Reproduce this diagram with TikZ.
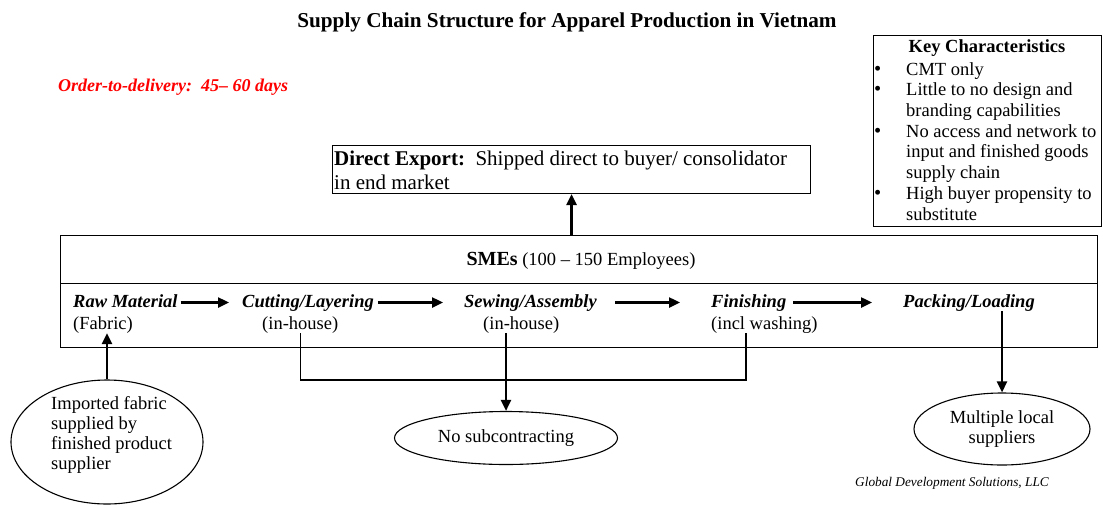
\documentclass[tikz,border=0pt]{standalone}
\usepackage{fontspec}
\setmainfont{Liberation Serif}
\usetikzlibrary{arrows.meta, shapes.geometric}

\begin{document}
\begin{tikzpicture}[x=1pt, y=-1pt, >={Triangle[length=11pt, width=10pt]},
  every node/.style={inner sep=0pt, font=\fontsize{18.5}{20.7}\selectfont},
  box/.style={draw, line width=1.1pt},
  flow/.style={->, line width=2.4pt},
  link/.style={line width=1.1pt},
  stage/.style={anchor=base west, font=\fontsize{18.5}{20.7}\selectfont\bfseries\itshape,
    text height=13pt, text depth=4pt},
  sub/.style={anchor=base west, text height=13pt, text depth=4pt},
  bubble/.style={box, ellipse, align=center}]
  \useasboundingbox (0,0) rectangle (1103,504);

  % heading and lead time
  \node[anchor=base, font=\fontsize{21.2}{24}\selectfont\bfseries] (title) at (567,27)
    {Supply Chain Structure for Apparel Production in Vietnam};
  \node[anchor=base west, red, font=\fontsize{18}{20}\selectfont\bfseries\itshape] (lead) at (58,91)
    {Order-to-delivery:\ \ 45– 60 days};

  % key characteristics (multi-line nodes sit on their last baseline)
  \newcommand\keydot{\makebox[32pt][l]{\fontsize{20.5}{20}\selectfont\textbullet}}
  \node[box, anchor=north west, minimum width=228, minimum height=191] (keys) at (873,35) {};
  \node[anchor=base, font=\fontsize{18.5}{20.7}\selectfont\bfseries] (keyhead) at (987,52) {Key Characteristics};
  \node[anchor=base west, align=left] (keylist) at (874,220) {%
    \keydot CMT only\\
    \keydot Little to no design and\\
    \hspace*{32pt}branding capabilities\\
    \keydot No access and network to\\
    \hspace*{32pt}input and finished goods\\
    \hspace*{32pt}supply chain\\
    \keydot High buyer propensity to\\
    \hspace*{32pt}substitute};

  % direct export
  \node[box, anchor=north west, minimum width=478, minimum height=48] (export) at (332,145) {};
  \node[anchor=base west, align=left, font=\fontsize{21}{23.5}\selectfont] (exporttxt) at (334,189)
    {\textbf{Direct Export:}\ \ Shipped direct to buyer/ consolidator\\in end market};

  % SME box
  \node[box, anchor=north west, minimum width=1037, minimum height=48] (smehead) at (60,235) {};
  \node[box, anchor=north west, minimum width=1037, minimum height=64] (smebody) at (60,283) {};
  \node[anchor=base] (smetxt) at (581,265)
    {{\fontsize{20}{22}\selectfont\textbf{SMEs}} (100 – 150 Employees)};

  % production stages
  \node[stage] (raw) at (73,307) {Raw Material};
  \node[sub] (fabric) at (73,329) {(Fabric)};
  \node[stage] (cut) at (242,307) {Cutting/Layering};
  \node[sub] (cutsub) at (262,329) {(in-house)};
  \node[stage] (sew) at (464,307) {Sewing/Assembly};
  \node[sub] (sewsub) at (483,329) {(in-house)};
  \node[stage] (fin) at (711,307) {Finishing};
  \node[sub] (finsub) at (711,329) {(incl washing)};
  \node[stage] (pack) at (903,307) {Packing/Loading};

  \draw[flow, shorten <=3pt, shorten >=13pt] (raw.east) -- (cut.west);
  \draw[flow, shorten <=4pt, shorten >=21pt] (cut.east) -- (sew.west);
  \draw[flow, shorten <=18pt, shorten >=31pt] (sew.east) -- (fin.west);
  \draw[flow, shorten <=7pt, shorten >=31pt] (fin.east) -- (pack.west);

  % outside the firm
  \node[bubble, minimum width=192, minimum height=124] (fabsrc) at (107,442) {};
  \node[anchor=base west, align=left, font=\fontsize{18.5}{20}\selectfont] (fabsrctxt) at (51,469)
    {Imported fabric\\supplied by\\finished product\\supplier};
  \node[bubble, minimum width=223, minimum height=53] (nosub) at (506,438) {No subcontracting};
  \node[bubble, minimum width=176, minimum height=72] (locsup) at (1002,429) {Multiple local\\suppliers};

  \draw[flow] (fabsrc.north) -- (fabsrc.north |- fabric.south);
  \draw[flow] (nosub.north |- sewsub.south) -- (nosub.north);
  \draw[flow] (locsup.north |- pack.south) -- (locsup.north);
  \draw[flow] (export.south |- smehead.north) -- (export.south);

  % in-house loop
  \coordinate (wash) at (746,380);
  \draw[link] (cutsub.south) |- (wash) -- (wash |- finsub.south);

  \node[anchor=base west, font=\fontsize{13.3}{15}\selectfont\itshape] (credit) at (855,486)
    {Global Development Solutions, LLC};
\end{tikzpicture}
\end{document}
